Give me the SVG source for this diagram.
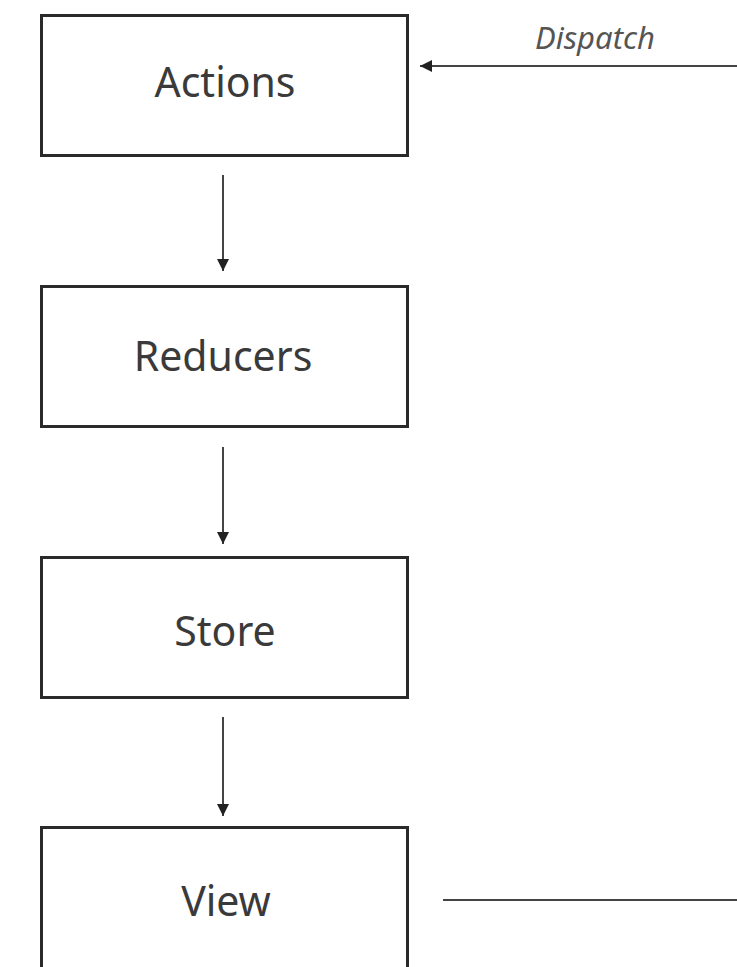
<svg xmlns="http://www.w3.org/2000/svg" width="737" height="967" viewBox="0 0 737 967">
<style>
.box{fill:#fff;stroke:#2a2a2a;stroke-width:3}
.lbl{font-family:"Noto Sans","Open Sans",sans-serif;font-size:41px;fill:#3a3a3a;text-anchor:middle}
.con{stroke:#444;stroke-width:2;fill:none}
.note{font-family:"Noto Sans","Open Sans",sans-serif;font-size:31px;font-style:italic;fill:#555;text-anchor:middle}
</style>
<defs>
<marker id="ah" viewBox="0 0 10 10" refX="10" refY="5" markerWidth="6" markerHeight="6" orient="auto" markerUnits="strokeWidth">
<path d="M0,0 L10,5 L0,10 Z" fill="#222"/>
</marker>
</defs>
<rect width="737" height="967" fill="#fff"/>
<g id="actions"><rect class="box" x="41.5" y="15.5" width="366" height="140"/><text class="lbl" x="225" y="97">Actions</text></g>
<g id="reducers"><rect class="box" x="41.5" y="286.5" width="366" height="140"/><text class="lbl" x="223" y="371">Reducers</text></g>
<g id="store"><rect class="box" x="41.5" y="557.5" width="366" height="140"/><text class="lbl" x="225" y="646">Store</text></g>
<g id="view"><rect class="box" x="41.5" y="827.5" width="366" height="145"/><text class="lbl" x="226" y="916">View</text></g>
<g id="connectors">
<line class="con" x1="223" y1="175" x2="223" y2="271" marker-end="url(#ah)"/>
<line class="con" x1="223" y1="447" x2="223" y2="544" marker-end="url(#ah)"/>
<line class="con" x1="223" y1="717" x2="223" y2="816" marker-end="url(#ah)"/>
<line class="con" x1="737" y1="66" x2="420" y2="66" marker-end="url(#ah)"/>
<line class="con" x1="443" y1="900" x2="737" y2="900"/>
<text class="note" x="595" y="49">Dispatch</text>
</g>
</svg>
